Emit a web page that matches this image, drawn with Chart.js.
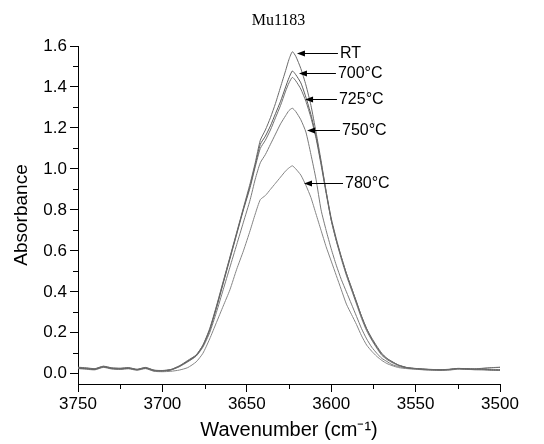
<!DOCTYPE html>
<html><head><meta charset="utf-8">
<script src="https://cdn.jsdelivr.net/npm/chart.js@4/dist/chart.umd.min.js"></script>
<style>html,body{margin:0;padding:0;background:#fff}#wrap{width:544px;height:444px}</style>
</head><body><div id="wrap"><canvas id="c" width="544" height="444"></canvas></div>
<script>
const chartTitle = 'Mu1183';
const xTitle = 'Wavenumber (cm\u207B\u00B9)';
const yTitle = 'Absorbance';
const wavenumbers = [3750,3745,3740,3735,3730,3725,3720,3715,3710,3705,3700,3695,3690,3685,3680,3676,3672,3668,3664,3660,3656,3652,3648,3645,3642,3639,3636,3633,3630,3627,3625,3623,3621,3618,3615,3612,3609,3606,3603,3600,3597,3594,3591,3588,3585,3582,3579,3576,3573,3570,3567,3564,3560,3555,3550,3545,3540,3535,3530,3525,3520,3515,3510,3505,3500];
const seriesNames = ['RT','700\u00B0C','725\u00B0C','750\u00B0C','780\u00B0C'];
const absRT = [0.030,0.027,0.024,0.036,0.028,0.026,0.029,0.021,0.030,0.017,0.015,0.020,0.038,0.065,0.092,
  0.140,0.220,0.330,0.450,0.570,0.690,0.810,0.930,1.030,1.140,1.190,1.250,1.320,1.400,1.480,1.535,1.572,
  1.550,1.490,1.410,1.310,1.180,1.040,0.890,0.750,0.650,0.570,0.490,0.420,0.350,0.280,0.220,0.175,0.135,0.100,0.075,0.058,0.042,
  0.030,0.025,0.022,0.020,0.019,0.021,0.025,0.022,0.020,0.020,0.018,0.017];
const abs700 = [0.028,0.025,0.022,0.034,0.026,0.024,0.027,0.020,0.028,0.016,0.014,0.019,0.036,0.062,0.090,
  0.138,0.215,0.325,0.445,0.565,0.685,0.805,0.920,1.020,1.120,1.160,1.210,1.270,1.330,1.400,1.445,1.478,
  1.460,1.420,1.350,1.265,1.160,1.030,0.890,0.760,0.660,0.570,0.490,0.420,0.350,0.280,0.220,0.170,0.130,0.095,0.075,0.060,0.042,
  0.030,0.026,0.023,0.021,0.020,0.022,0.026,0.024,0.022,0.022,0.020,0.020];
const abs725 = [0.032,0.029,0.025,0.037,0.029,0.027,0.030,0.022,0.031,0.018,0.016,0.021,0.038,0.060,0.088,
  0.135,0.212,0.320,0.440,0.560,0.680,0.800,0.910,1.010,1.100,1.140,1.190,1.250,1.310,1.380,1.420,1.447,
  1.430,1.390,1.330,1.250,1.150,1.020,0.880,0.750,0.650,0.560,0.480,0.410,0.340,0.270,0.210,0.165,0.125,0.090,0.070,0.055,0.040,
  0.029,0.025,0.022,0.020,0.019,0.021,0.026,0.025,0.024,0.026,0.029,0.031];
const abs750 = [0.027,0.024,0.021,0.033,0.025,0.023,0.026,0.019,0.027,0.014,0.013,0.018,0.034,0.058,0.086,
  0.130,0.200,0.300,0.410,0.520,0.630,0.740,0.850,0.950,1.030,1.070,1.120,1.170,1.220,1.260,1.285,1.296,
  1.280,1.240,1.180,1.070,0.950,0.800,0.700,0.610,0.530,0.460,0.400,0.340,0.280,0.220,0.170,0.130,0.100,0.075,0.060,0.045,0.035,
  0.027,0.023,0.020,0.018,0.017,0.019,0.024,0.024,0.024,0.027,0.030,0.032];
const abs780 = [0.025,0.022,0.019,0.031,0.023,0.021,0.024,0.017,0.025,0.012,0.010,0.012,0.018,0.030,0.058,
  0.100,0.170,0.250,0.330,0.410,0.510,0.600,0.700,0.780,0.850,0.870,0.900,0.930,0.960,0.990,1.005,1.015,
  1.000,0.970,0.920,0.860,0.780,0.700,0.620,0.550,0.480,0.410,0.340,0.290,0.240,0.185,0.140,0.110,0.085,0.065,0.050,0.040,0.030,
  0.025,0.022,0.019,0.017,0.016,0.018,0.022,0.021,0.020,0.019,0.017,0.016];
const xTicks = [3750,3700,3650,3600,3550,3500];
const xMinorTicks = [3725,3675,3625,3575,3525];
const yTicks = [0.0,0.2,0.4,0.6,0.8,1.0,1.2,1.4,1.6];
const yMinorTicks = [0.1,0.3,0.5,0.7,0.9,1.1,1.3,1.5];
// arrow annotations (data coordinates)
const annLabels = ['RT','700\u00B0C','725\u00B0C','750\u00B0C','780\u00B0C'];
const annTipX = [3620.3,3619.1,3615.5,3614.3,3616.1];
const annTipY = [1.566,1.468,1.341,1.190,0.932];
const annTailX = [3596.0,3597.2,3596.6,3594.8,3593.0];

const seriesValues = [absRT, abs700, abs725, abs750, abs780];
const lineColors = ['#6a6a6a','#5a5a5a','#707070','#7a7a7a','#858585'];

const FONT = '"Liberation Sans", Arial, sans-serif';

const extras = {
  id: 'extras',
  afterDraw(chart) {
    const {ctx, scales: {x, y}} = chart;
    ctx.save();
    ctx.strokeStyle = '#000';
    ctx.lineWidth = 1;
    ctx.beginPath();
    xMinorTicks.forEach(v => {
      const px = Math.round(x.getPixelForValue(v)) + 0.5;
      ctx.moveTo(px, y.bottom); ctx.lineTo(px, y.bottom + 5);
    });
    yMinorTicks.forEach(v => {
      const py = Math.round(y.getPixelForValue(v)) + 0.5;
      ctx.moveTo(x.left - 5, py); ctx.lineTo(x.left, py);
    });
    ctx.stroke();
    ctx.fillStyle = '#000';
    ctx.font = '16px "Liberation Serif", "Times New Roman", serif';
    ctx.textAlign = 'center';
    ctx.textBaseline = 'middle';
    ctx.fillText(chartTitle, 278.5, 21);
    ctx.font = '16px ' + FONT;
    ctx.textAlign = 'left';
    annLabels.forEach((lab, i) => {
      const tx = x.getPixelForValue(annTipX[i]);
      const ty = Math.round(y.getPixelForValue(annTipY[i])) + 0.5;
      const ex = x.getPixelForValue(annTailX[i]);
      ctx.beginPath(); ctx.moveTo(ex, ty); ctx.lineTo(tx + 6, ty); ctx.stroke();
      ctx.beginPath(); ctx.moveTo(tx, ty); ctx.lineTo(tx + 8, ty - 3); ctx.lineTo(tx + 8, ty + 3); ctx.closePath(); ctx.fill();
      ctx.fillText(lab, ex + 2, ty);
    });
    ctx.restore();
  }
};

new Chart(document.getElementById('c'), {
  type: 'line',
  data: {
    datasets: seriesNames.map((name, i) => ({
      label: name,
      data: wavenumbers.map((w, j) => ({x: w, y: seriesValues[i][j]})),
      borderColor: lineColors[i],
      borderWidth: 1,
      pointRadius: 0,
      fill: false,
      tension: 0.2
    }))
  },
  options: {
    responsive: false,
    animation: false,
    devicePixelRatio: 1,
    layout: {padding: {top: 46, right: 44, left: 0, bottom: 0}},
    plugins: {legend: {display: false}, tooltip: {enabled: false}, title: {display: false}},
    scales: {
      x: {
        type: 'linear', reverse: true, min: 3500, max: 3750,
        afterBuildTicks: s => { s.ticks = xTicks.map(v => ({value: v})); },
        afterFit: s => { s.height = 60; },
        ticks: {color: '#000', font: {family: FONT, size: 17}, padding: 2, maxRotation: 0, autoSkip: false, callback: v => String(v)},
        grid: {display: true, drawOnChartArea: false, drawTicks: true, tickLength: 8, color: '#000', lineWidth: 1},
        border: {display: true, color: '#000', width: 1},
        title: {display: true, text: xTitle, color: '#000', font: {family: FONT, size: 20}, padding: {top: 0, bottom: 2}}
      },
      y: {
        type: 'linear', min: -0.05, max: 1.6,
        afterBuildTicks: s => { s.ticks = yTicks.map(v => ({value: v})); },
        afterFit: s => { s.width = 78; },
        ticks: {color: '#000', font: {family: FONT, size: 17}, padding: 3, autoSkip: false, callback: v => Number(v).toFixed(1)},
        grid: {display: true, drawOnChartArea: false, drawTicks: true, tickLength: 8, color: '#000', lineWidth: 1},
        border: {display: true, color: '#000', width: 1},
        title: {display: true, text: yTitle, color: '#000', font: {family: FONT, size: 19}, padding: {top: 10, bottom: 0}}
      }
    }
  },
  plugins: [extras]
});
</script>
</body></html>
